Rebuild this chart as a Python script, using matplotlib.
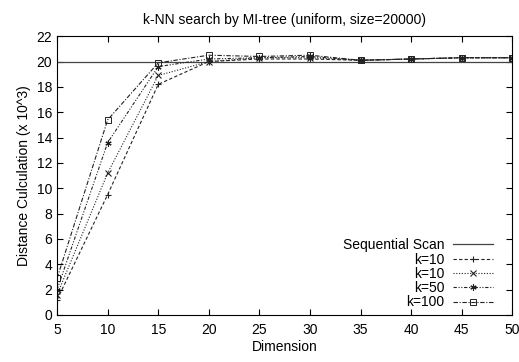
import matplotlib; matplotlib.use("Agg")
import matplotlib.pyplot as plt

plt.rcParams["font.family"] = ["Liberation Sans", "DejaVu Sans"]

dims = [5, 10, 15, 20, 25, 30, 35, 40, 45, 50]
seq_scan = [20.0] * 10
k10a = [1.2, 9.5, 18.2, 20.0, 20.2, 20.2, 20.1, 20.2, 20.3, 20.3]
k10b = [1.6, 11.2, 18.9, 20.0, 20.3, 20.3, 20.1, 20.2, 20.3, 20.3]
k50 = [2.0, 13.6, 19.6, 20.2, 20.3, 20.4, 20.1, 20.2, 20.3, 20.3]
k100 = [2.9, 15.4, 19.9, 20.5, 20.4, 20.5, 20.1, 20.2, 20.3, 20.3]

fig = plt.figure(figsize=(5.19, 3.62), dpi=100)
ax = fig.add_axes([0.11, 0.13, 0.877, 0.77])

c = "#222222"
ax.plot(dims, seq_scan, color="#444444", lw=0.9, ls="-", label="Sequential Scan")
ax.plot(dims, k10a, color=c, lw=0.8, ls=(0, (3, 2)), marker="+", ms=5, mew=0.8, label="k=10")
ax.plot(dims, k10b, color=c, lw=0.8, ls=(0, (1, 1.5)), marker="x", ms=4, mew=0.8, label="k=10")
ax.plot(dims, k50, color=c, lw=0.8, ls=(0, (3, 1.5, 1, 1.5, 1, 1.5)), marker=(6, 2, 0), ms=4.5, mew=0.8, label="k=50")
ax.plot(dims, k100, color=c, lw=0.8, ls=(0, (4, 1.5, 1, 1.5)), marker="s", ms=4, mew=0.7,
        mfc="none", label="k=100")

ax.set_xlim(5, 50)
ax.set_ylim(0, 22)
ax.set_xticks(range(5, 51, 5))
ax.set_yticks(range(0, 23, 2))
ax.tick_params(direction="in", top=True, right=True, labelsize=10, length=4)
ax.tick_params(axis="x", pad=6)
ax.set_xlabel("Dimension", fontsize=10, labelpad=2)
ax.set_ylabel("Distance Culculation (x 10^3)", fontsize=10)
ax.set_title("k-NN search by MI-tree (uniform, size=20000)", fontsize=10, pad=9)

# gnuplot-style key: right-aligned labels, sample line after the text
leg = ax.legend(loc="lower right", bbox_to_anchor=(0.97, 0.0), frameon=False, markerfirst=False,
                fontsize=10, handlelength=2.9, labelspacing=0.02, borderaxespad=0.0,
                handletextpad=0.6)
for col in leg._legend_handle_box.get_children():
    col.align = "right"

plt.savefig("out.png", dpi=100)
